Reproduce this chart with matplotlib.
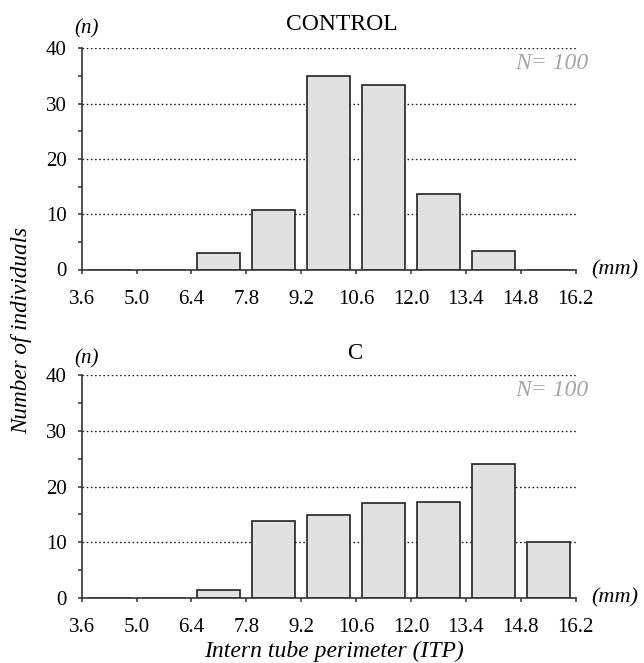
import matplotlib
matplotlib.use("Agg")
import matplotlib.pyplot as plt
import numpy as np

# Data
bin_edges = [3.6, 5.0, 6.4, 7.8, 9.2, 10.6, 12.0, 13.4, 14.8, 16.2]
tick_labels = ["3.6", "5.0", "6.4", "7.8", "9.2", "10.6", "12.0", "13.4", "14.8", "16.2"]
control_counts = [0, 0, 3.0, 10.7, 35.0, 33.3, 13.6, 3.4, 0]
c_counts = [0, 0, 1.5, 13.8, 14.8, 17.0, 17.3, 24.0, 10.0]
panel_titles = ["CONTROL", "C"]
n_labels = ["N= 100", "N= 100"]
y_major = [0, 10, 20, 30, 40]
y_minor = [5, 15, 25, 35]

plt.rcParams['font.family'] = ['Liberation Serif', 'DejaVu Serif']

W, H = 644, 663
fig = plt.figure(figsize=(W / 100, H / 100), dpi=100)

def fx(px):
    return px / W

def fy(py):
    return 1 - py / H

x0_px, x1_px = 81.7, 575.5
axes_specs = [(269.5, 48.3), (598.0, 375.0)]  # (bottom px, top px)
title_pos = [(342, 24.7, 17), (354.3, 353.3, 16.5)]
n_pos = [(86.7, 29), (86.7, 359)]

edges = np.array(bin_edges)
centers = (edges[:-1] + edges[1:]) / 2

for i, (counts, title, nlab) in enumerate(zip([control_counts, c_counts], panel_titles, n_labels)):
    bpx, tpx = axes_specs[i]
    ax = fig.add_axes([fx(x0_px), fy(bpx), (x1_px - x0_px) / W, (bpx - tpx) / H])
    ax.set_xlim(edges[0], edges[-1])
    ax.set_ylim(0, 40)
    for g in y_major[1:]:
        ax.axhline(g, color='#222222', linestyle=(0, (1.2, 1.8)), linewidth=1.0, zorder=1)
    ax.bar(centers, counts, width=1.1, color='#e1e1e1', edgecolor='#222222',
           linewidth=1.2, zorder=2)
    for s in ['top', 'right']:
        ax.spines[s].set_visible(False)
    for s in ['left', 'bottom']:
        ax.spines[s].set_linewidth(1.2)
        ax.spines[s].set_color('#333333')
        ax.spines[s].set_zorder(3)
    ax.set_xticks(bin_edges)
    ax.set_xticklabels(tick_labels)
    ax.set_yticks(y_major)
    ax.set_yticks(y_minor, minor=True)
    ax.tick_params(axis='x', direction='out', length=3, width=1.1, pad=11.5, labelsize=15, color='#333333')
    ax.tick_params(axis='y', which='major', direction='out', length=3, width=1.1, pad=8, labelsize=15, color='#333333')
    ax.tick_params(axis='y', which='minor', direction='out', length=3, width=1.1, color='#333333')
    ax.patch.set_visible(False)

    tx, ty, tfs = title_pos[i]
    fig.text(fx(tx), fy(ty), title, ha='center', va='center', fontsize=tfs)
    nx, ny = n_pos[i]
    fig.text(fx(nx), fy(ny), "(n)", ha='center', va='center', fontsize=15, style='italic')
    fig.text(fx(591.5), fy(bpx), "(mm)", ha='left', va='center', fontsize=16, style='italic')
    ax.text(16.54, 37.3, nlab, ha='right', va='center', fontsize=17, style='italic', color='#a6a6a6')

fig.text(fx(22), fy(330), "Number of individuals", rotation=90, ha='center', va='center',
         fontsize=16.7, style='italic')
fig.text(fx(333.7), fy(651.7), "Intern tube perimeter (ITP)", ha='center', va='center',
         fontsize=17, style='italic')

fig.savefig("out.png", dpi=100)
